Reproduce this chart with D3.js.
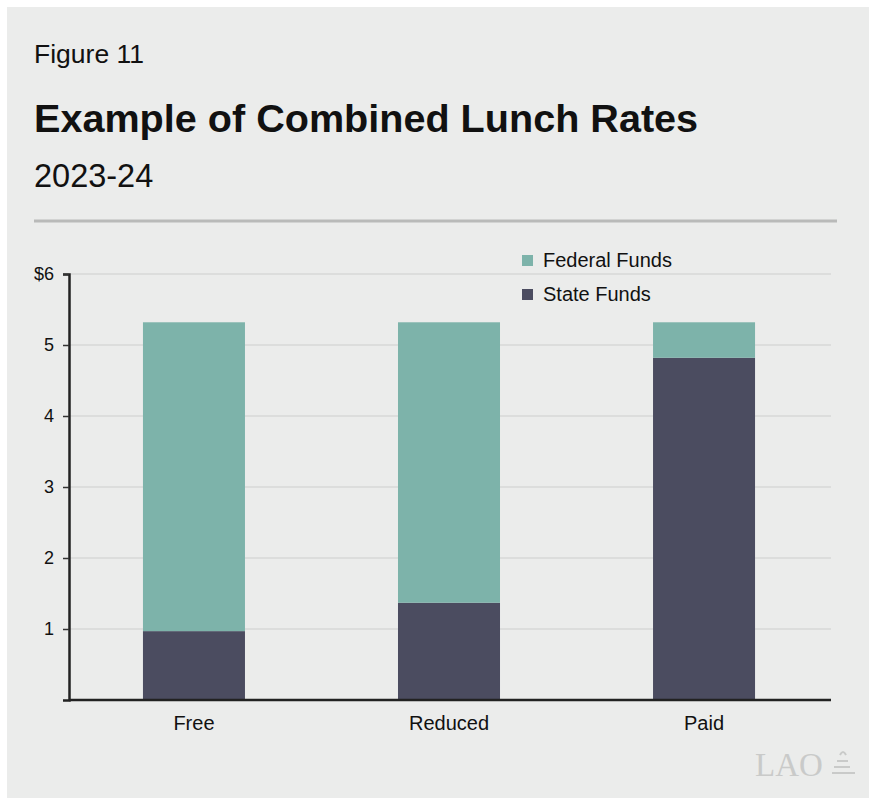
<!DOCTYPE html>
<html>
<head>
<meta charset="utf-8">
<script src="https://cdn.jsdelivr.net/npm/d3@7"></script>
<style>
  html, body { margin: 0; padding: 0; background: #fff; }
  svg { display: block; font-family: "Liberation Sans", Arial, sans-serif; }
</style>
</head>
<body>
<div id="chart"></div>
<script>
const categories = ["Free", "Reduced", "Paid"];
const stateFunds = [0.97, 1.37, 4.82];
const federalFunds = [4.35, 3.95, 0.50];
const seriesNames = ["State Funds", "Federal Funds"];
const yTicks = [1, 2, 3, 4, 5, 6];

const W = 869, H = 798;
const svg = d3.select("#chart").append("svg")
    .attr("width", W)
    .attr("height", H);

// panel background
svg.append("rect")
    .attr("x", 7).attr("y", 7)
    .attr("width", W - 7).attr("height", H - 7)
    .attr("fill", "#ebeceb");

// headings
svg.append("text")
    .attr("x", 34).attr("y", 63)
    .attr("font-size", 26.5)
    .attr("fill", "#111")
    .text("Figure 11");

svg.append("text")
    .attr("x", 34).attr("y", 132)
    .attr("font-size", 39.6)
    .attr("font-weight", "bold")
    .attr("fill", "#111")
    .text("Example of Combined Lunch Rates");

svg.append("text")
    .attr("x", 34).attr("y", 187)
    .attr("font-size", 32.5)
    .attr("fill", "#111")
    .text("2023-24");

svg.append("line")
    .attr("x1", 34).attr("x2", 837)
    .attr("y1", 221).attr("y2", 221)
    .attr("stroke", "#b9bab9")
    .attr("stroke-width", 3);

// scales
const margin = { left: 69, right: 831, top: 274, bottom: 700 };
const x = d3.scaleBand()
    .domain(categories)
    .range([margin.left, 829])
    .paddingInner(0.6)
    .paddingOuter(0.29);

const y = d3.scaleLinear()
    .domain([0, 6])
    .range([margin.bottom, margin.top]);

// gridlines
svg.append("g")
    .selectAll("line")
    .data(yTicks)
    .join("line")
    .attr("x1", margin.left).attr("x2", margin.right)
    .attr("y1", d => y(d)).attr("y2", d => y(d))
    .attr("stroke", "#dcdddc")
    .attr("stroke-width", 2);

// stacked bars
const rows = categories.map((c, i) => ({ cat: c, "State Funds": stateFunds[i], "Federal Funds": federalFunds[i] }));
const stack = d3.stack().keys(seriesNames)(rows);
const color = d3.scaleOrdinal()
    .domain(seriesNames)
    .range(["#4b4c60", "#7db3aa"]);

svg.append("g")
    .selectAll("g")
    .data(stack)
    .join("g")
    .attr("fill", d => color(d.key))
    .selectAll("rect")
    .data(d => d)
    .join("rect")
    .attr("x", d => x(d.data.cat))
    .attr("y", d => y(d[1]))
    .attr("width", x.bandwidth())
    .attr("height", d => y(d[0]) - y(d[1]));

// y axis
const yAxis = svg.append("g")
    .attr("transform", `translate(${margin.left},0)`)
    .call(d3.axisLeft(y).tickValues(yTicks).tickSize(6).tickPadding(9)
        .tickFormat(d => d === 6 ? "$6" : d));
yAxis.select(".domain").attr("stroke", "#222").attr("stroke-width", 2.5);
yAxis.selectAll(".tick line").attr("stroke", "#333").attr("stroke-width", 1.5);
yAxis.selectAll(".tick text")
    .attr("font-size", 18)
    .attr("font-family", "Liberation Sans, Arial, sans-serif")
    .attr("fill", "#111");

// x axis
const xAxis = svg.append("g")
    .attr("transform", `translate(0,${margin.bottom})`)
    .call(d3.axisBottom(x).tickSize(0).tickPadding(16));
xAxis.select(".domain")
    .attr("d", `M${margin.left},0H${margin.right}`)
    .attr("stroke", "#222").attr("stroke-width", 2.5);
xAxis.selectAll(".tick text")
    .attr("font-size", 20)
    .attr("font-family", "Liberation Sans, Arial, sans-serif")
    .attr("fill", "#111");

// legend
const legendOrder = ["Federal Funds", "State Funds"];
const legend = svg.append("g")
    .selectAll("g")
    .data(legendOrder)
    .join("g")
    .attr("transform", (d, i) => `translate(522,${255 + i * 34})`);
legend.append("rect")
    .attr("width", 11).attr("height", 11)
    .attr("fill", d => color(d));
legend.append("text")
    .attr("x", 21).attr("y", 12)
    .attr("font-size", 20)
    .attr("fill", "#111")
    .text(d => d);

// LAO mark
svg.append("text")
    .attr("x", 755).attr("y", 776)
    .attr("font-size", 33)
    .attr("font-family", "Liberation Serif, serif")
    .attr("fill", "#c9cac9")
    .text("LAO");
const icon = svg.append("g").attr("stroke", "#c9cac9").attr("fill", "none").attr("stroke-width", 2);
icon.append("path").attr("d", "M832,773 H855 M834,767 H850 M837,761 H848 M840,755 q3,-6 6,0");
</script>
</body>
</html>
